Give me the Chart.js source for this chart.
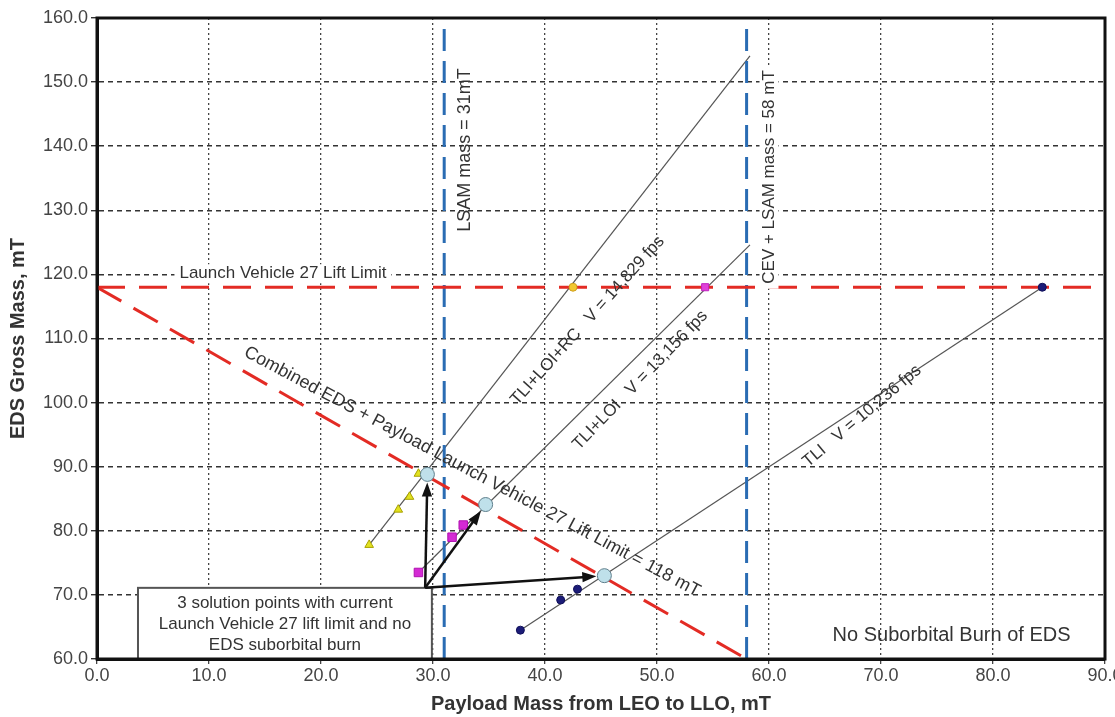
<!DOCTYPE html>
<html lang="en">
<head>
    <meta charset="UTF-8">
    <title>EDS Gross Mass vs Payload Mass</title>
    <script src="https://cdn.jsdelivr.net/npm/chart.js"></script>
    <style>
        body { margin: 0; background: #fff; }
        #wrap { width: 1115px; height: 717px; position: relative; }
    </style>
</head>
<body>
    <div id="wrap"><canvas id="edsChart"></canvas></div>

    <script>
        const FONT = '"Liberation Sans Narrow", "Arial Narrow", "Liberation Sans", Arial, sans-serif';

        // Axis ranges
        const xRange = [0, 90];
        const yRange = [60, 160];

        // Limits
        const liftLimit = [[0, 118], [89.1, 118]];
        const combinedLimit = [[0, 118], [57.5, 60.5]];
        const lsamLine = [[31, 60], [31, 160]];
        const cevLsamLine = [[58, 60], [58, 160]];

        // TLI+LOI+RC (yellow triangles)
        const rcLine = [[24.3, 77.8], [58.3, 154.1]];
        const rcMarks = [[24.3, 77.8], [26.9, 83.3], [27.9, 85.3], [28.7, 88.9]];
        const rcAtLimit = [[42.5, 118]];

        // TLI+LOI (magenta squares)
        const loiLine = [[28.7, 73.5], [58.3, 124.6]];
        const loiMarks = [[28.7, 73.5], [31.7, 79.0], [32.7, 80.9]];
        const loiAtLimit = [[54.3, 118]];

        // TLI (blue dots)
        const tliLine = [[37.8, 64.5], [84.4, 118]];
        const tliMarks = [[37.8, 64.5], [41.4, 69.2], [42.9, 70.9], [84.4, 118]];

        // Solution points and arrow origin
        const solutions = [[29.5, 88.8], [34.7, 84.1], [45.3, 73.0]];
        const arrowFrom = [29.3, 71.1];

        const pts = arr => arr.map(p => ({ x: p[0], y: p[1] }));

        function lineSet(data, color, width, dash, order) {
            return {
                type: 'line', data: pts(data), borderColor: color, borderWidth: width,
                borderDash: dash, pointRadius: 0, showLine: true, fill: false, order: order, tension: 0
            };
        }
        function markSet(data, style, fill, stroke, radius) {
            return {
                type: 'scatter', data: pts(data), pointStyle: style, pointRadius: radius,
                backgroundColor: fill, borderColor: stroke, borderWidth: 1, showLine: false, order: 0
            };
        }

        // Text annotations (data coordinates)
        const notes = [
            { text: 'Launch Vehicle 27 Lift Limit', x: 16.6, y: 120.1, angle: 0, size: 17, bg: true },
            { text: 'LSAM mass = 31mT', x: 32.9, y: 139.4, angle: -90, size: 18 },
            { text: 'CEV + LSAM mass = 58 mT', x: 60.0, y: 135.2, angle: -90, size: 17, bg: true },
            { text: 'TLI+LOI+RC   V = 14,829 fps', x: 43.8, y: 112.8, angle: -48, size: 17 },
            { text: 'TLI+LOI   V = 13,156 fps', x: 48.5, y: 103.5, angle: -46, size: 17 },
            { text: 'TLI   V = 10,236 fps', x: 68.3, y: 97.9, angle: -40, size: 17 },
            { text: 'Combined EDS + Payload Launch Vehicle 27 Lift Limit = 118 mT', x: 33.5, y: 89.2, angle: 28, size: 18 },
            { text: 'No Suborbital Burn of EDS', x: 76.3, y: 63.6, angle: 0, size: 20 }
        ];
        const boxLines = ['3 solution points with current', 'Launch Vehicle 27 lift limit and no', 'EDS suborbital burn'];
        const boxCorners = [[3.66, 71.1], [29.9, 60]];

        const annotations = {
            id: 'annotations',
            afterDatasetsDraw(chart) {
                const ctx = chart.ctx, sx = chart.scales.x, sy = chart.scales.y;
                const px = v => sx.getPixelForValue(v), py = v => sy.getPixelForValue(v);

                // rotated notes
                notes.forEach(n => {
                    ctx.save();
                    ctx.translate(px(n.x), py(n.y));
                    ctx.rotate(n.angle * Math.PI / 180);
                    ctx.font = n.size + 'px ' + FONT;
                    ctx.textAlign = 'center';
                    ctx.textBaseline = 'middle';
                    if (n.bg) {
                        const w = ctx.measureText(n.text).width;
                        ctx.fillStyle = '#fff';
                        ctx.fillRect(-w / 2 - 5, -n.size / 2 - 1, w + 10, n.size + 2);
                    }
                    ctx.fillStyle = '#333';
                    ctx.fillText(n.text, 0, 0);
                    ctx.restore();
                });

                // solution box
                const bx0 = px(boxCorners[0][0]), by0 = py(boxCorners[0][1]);
                const bx1 = px(boxCorners[1][0]), by1 = py(boxCorners[1][1]);
                ctx.save();
                ctx.fillStyle = '#fff';
                ctx.fillRect(bx0, by0, bx1 - bx0, by1 - by0);
                ctx.strokeStyle = '#555';
                ctx.lineWidth = 2;
                ctx.strokeRect(bx0, by0, bx1 - bx0, by1 - by0);
                ctx.font = '17px ' + FONT;
                ctx.fillStyle = '#333';
                ctx.textAlign = 'center';
                ctx.textBaseline = 'middle';
                boxLines.forEach((t, i) => ctx.fillText(t, (bx0 + bx1) / 2, by0 + 15 + i * 21));
                ctx.restore();

                // arrows to the solution points
                const ox = px(arrowFrom[0]), oy = py(arrowFrom[1]);
                ctx.save();
                ctx.strokeStyle = '#111';
                ctx.fillStyle = '#111';
                ctx.lineWidth = 2.5;
                solutions.forEach(s => {
                    const tx = px(s[0]), ty = py(s[1]);
                    const a = Math.atan2(ty - oy, tx - ox);
                    const ex = tx - Math.cos(a) * 8, ey = ty - Math.sin(a) * 8;
                    ctx.beginPath();
                    ctx.moveTo(ox, oy);
                    ctx.lineTo(ex - Math.cos(a) * 10, ey - Math.sin(a) * 10);
                    ctx.stroke();
                    ctx.beginPath();
                    ctx.moveTo(ex, ey);
                    ctx.lineTo(ex - Math.cos(a - 0.35) * 15, ey - Math.sin(a - 0.35) * 15);
                    ctx.lineTo(ex - Math.cos(a + 0.35) * 15, ey - Math.sin(a + 0.35) * 15);
                    ctx.closePath();
                    ctx.fill();
                });
                ctx.restore();

                // frame around the plot area
                const ca = chart.chartArea;
                ctx.save();
                ctx.strokeStyle = '#111';
                ctx.lineWidth = 3;
                ctx.strokeRect(ca.left, ca.top, ca.right - ca.left, ca.bottom - ca.top);
                ctx.restore();
            }
        };

        new Chart(document.getElementById('edsChart'), {
            type: 'scatter',
            data: {
                datasets: [
                    markSet(solutions, 'circle', '#bfe0ea', '#5f7f8c', 7),
                    markSet(rcMarks, 'triangle', '#e2e220', '#a8a000', 5),
                    markSet(rcAtLimit, 'circle', '#f2c830', '#d0a020', 4),
                    markSet(loiMarks, 'rect', '#d42ad4', '#b010b0', 6),
                    markSet(loiAtLimit, 'rect', '#e040d8', '#c020c0', 5),
                    markSet(tliMarks, 'circle', '#1c1c78', '#10105a', 4),
                    lineSet(liftLimit, '#e32b24', 3, [28, 14], 1),
                    lineSet(combinedLimit, '#e32b24', 3, [28, 14], 1),
                    lineSet(lsamLine, '#2a6cb3', 3, [22, 10], 2),
                    lineSet(cevLsamLine, '#2a6cb3', 3, [22, 10], 2),
                    lineSet(rcLine, '#555', 1.2, [], 3),
                    lineSet(loiLine, '#555', 1.2, [], 3),
                    lineSet(tliLine, '#555', 1.2, [], 3)
                ]
            },
            options: {
                responsive: true,
                maintainAspectRatio: false,
                animation: false,
                layout: { padding: { top: 18, right: 10, left: 0, bottom: 0 } },
                plugins: { legend: { display: false }, tooltip: { enabled: false } },
                scales: {
                    x: {
                        type: 'linear', min: xRange[0], max: xRange[1],
                        ticks: {
                            stepSize: 10, autoSkip: false, maxRotation: 0, padding: 1,
                            color: '#444', font: { family: FONT, size: 18 },
                            callback: v => v.toFixed(1)
                        },
                        grid: { color: '#444', lineWidth: 1.3, tickLength: 5 },
                        border: { display: true, color: '#111', width: 3, dash: [2, 3] },
                        title: {
                            display: true, text: 'Payload Mass from LEO to LLO, mT', color: '#333',
                            font: { family: FONT, size: 20, weight: 'bold' }, padding: { top: 0, bottom: 1 }
                        },
                        afterFit: s => { s.height = 58; s.paddingLeft = 0; s.paddingRight = 0; }
                    },
                    y: {
                        type: 'linear', min: yRange[0], max: yRange[1],
                        ticks: {
                            stepSize: 10, autoSkip: false, padding: 3,
                            color: '#444', font: { family: FONT, size: 18 },
                            callback: v => v.toFixed(1)
                        },
                        grid: { color: '#333', lineWidth: 1.4, tickLength: 6 },
                        border: { display: true, color: '#111', width: 3, dash: [5, 4] },
                        title: {
                            display: true, text: 'EDS Gross Mass, mT', color: '#333',
                            font: { family: FONT, size: 20, weight: 'bold' }, padding: { top: 6, bottom: 0 }
                        },
                        afterFit: s => { s.width = 97; s.paddingTop = 0; s.paddingBottom = 0; }
                    }
                }
            },
            plugins: [annotations]
        });
    </script>
</body>
</html>
